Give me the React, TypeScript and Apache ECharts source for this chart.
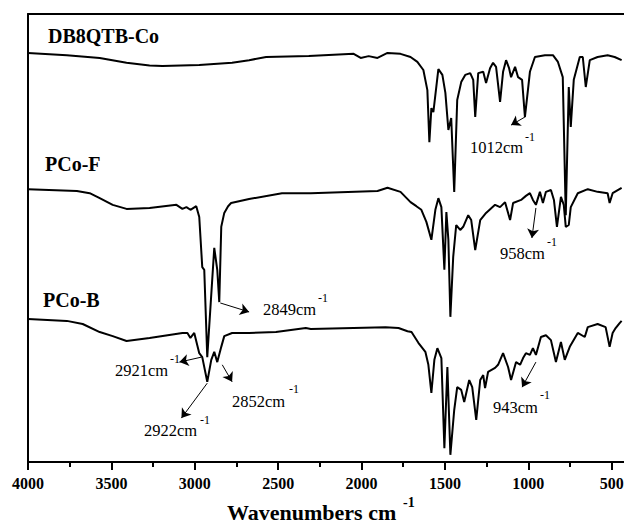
import React, { useEffect, useRef } from "react";
import * as echarts from "echarts";

// ---- Data (wavenumber cm^-1, transmittance a.u.) ----
const dbWn = [4000, 3767, 3570, 3409, 3271, 3194, 2973, 2776, 2674, 2572, 2316, 2047, 2005, 1957, 1904, 1844, 1766, 1706, 1665, 1629, 1605, 1593, 1581, 1569, 1539, 1515, 1497, 1479, 1462, 1444, 1426, 1402, 1378, 1348, 1330, 1318, 1300, 1270, 1253, 1229, 1211, 1193, 1169, 1151, 1133, 1115, 1103, 1079, 1061, 1037, 1020, 1002, 990, 960, 900, 852, 822, 793, 775, 757, 745, 727, 691, 673, 655, 631, 584, 524, 482, 440];
const dbT = [91.3, 90.8, 90.2, 89.1, 88.5, 88.4, 88.6, 89.1, 89.7, 90.4, 90.6, 91.1, 90.2, 90.6, 90.2, 91.3, 91.1, 90.4, 89.3, 87.5, 83.0, 71.4, 79.0, 78.1, 87.7, 86.4, 82.4, 74.1, 76.8, 60.3, 80.8, 84.8, 86.4, 86.8, 85.3, 77.0, 86.8, 87.1, 84.6, 87.9, 89.1, 88.2, 80.4, 87.1, 89.7, 87.9, 85.9, 88.2, 85.9, 85.3, 77.0, 83.0, 87.1, 90.4, 90.8, 90.8, 89.3, 85.9, 55.1, 83.7, 74.8, 85.3, 90.4, 90.4, 83.7, 89.7, 90.4, 90.8, 90.4, 89.7];

const pfWn = [4000, 3707, 3630, 3570, 3492, 3409, 3271, 3110, 3074, 3050, 3026, 2991, 2973, 2955, 2943, 2925, 2883, 2865, 2853, 2841, 2823, 2800, 2782, 2674, 2477, 2304, 1904, 1844, 1766, 1706, 1671, 1641, 1611, 1581, 1557, 1539, 1521, 1503, 1491, 1479, 1467, 1450, 1432, 1408, 1390, 1360, 1342, 1318, 1288, 1253, 1199, 1169, 1139, 1109, 1091, 1043, 1014, 990, 972, 954, 930, 912, 894, 864, 846, 828, 804, 787, 775, 757, 745, 703, 643, 584, 524, 512, 494, 440];
const pfT = [60.9, 60.5, 60.0, 58.9, 57.4, 56.5, 56.7, 57.4, 56.5, 56.9, 56.3, 57.1, 54.7, 43.5, 42.9, 23.4, 47.8, 42.9, 35.7, 52.5, 55.6, 57.1, 57.8, 58.7, 60.0, 60.0, 60.5, 61.2, 60.3, 58.0, 57.1, 56.3, 53.6, 49.6, 56.3, 58.9, 56.9, 42.9, 55.8, 49.6, 32.4, 45.8, 52.9, 51.8, 52.5, 55.1, 54.0, 47.3, 54.0, 55.6, 57.4, 56.9, 58.0, 54.0, 57.8, 58.5, 59.4, 60.0, 58.5, 57.4, 60.3, 57.8, 60.3, 60.7, 58.5, 52.5, 59.2, 57.4, 52.5, 52.9, 56.9, 60.0, 60.9, 60.3, 60.0, 57.8, 60.0, 61.2];

const pbWn = [4000, 3767, 3672, 3570, 3492, 3409, 3271, 3074, 3044, 3026, 3003, 2973, 2955, 2925, 2901, 2883, 2865, 2841, 2823, 2776, 2674, 2513, 2334, 2304, 1856, 1778, 1724, 1700, 1659, 1617, 1599, 1581, 1563, 1545, 1521, 1503, 1485, 1467, 1444, 1426, 1402, 1384, 1354, 1336, 1312, 1288, 1270, 1259, 1241, 1199, 1181, 1151, 1121, 1103, 1073, 1049, 1031, 1014, 990, 972, 954, 924, 894, 864, 834, 804, 781, 751, 703, 661, 643, 584, 536, 512, 494, 476, 452, 440];
const pbT = [31.9, 31.5, 30.8, 29.0, 28.1, 27.0, 27.7, 28.8, 28.8, 27.7, 28.8, 24.3, 23.4, 17.9, 22.8, 24.6, 22.3, 25.7, 28.1, 28.8, 28.8, 29.0, 29.9, 29.7, 30.1, 29.9, 29.2, 29.0, 26.6, 24.6, 21.7, 15.4, 22.8, 25.4, 23.2, 3.1, 21.2, 1.6, 11.6, 16.7, 16.1, 13.4, 18.3, 16.7, 9.4, 18.3, 19.4, 16.5, 20.1, 21.0, 21.7, 24.3, 21.2, 18.3, 22.3, 21.7, 23.2, 24.3, 23.9, 25.4, 23.9, 27.9, 28.3, 27.2, 22.3, 26.8, 22.8, 25.7, 28.8, 27.9, 30.1, 30.8, 30.1, 25.7, 28.8, 29.9, 31.0, 31.5];

const seriesNames = ["DB8QTB-Co", "PCo-F", "PCo-B"];
const xTickLabels = ["4000", "3500", "3000", "2500", "2000", "1500", "1000", "500"];

// arrows: [fromWn, fromT, toWn, toT]
const dbArrows = [[1020, 77.0, 1103, 75.2]];
const pfArrows = [[2847, 35.5, 2674, 33.5], [954, 56.7, 978, 50.0]];
const pbArrows = [[2961, 23.4, 3092, 22.3], [2835, 21.7, 2776, 17.9], [2925, 17.6, 3080, 9.8], [954, 22.3, 1037, 16.7]];

// annotation texts: [main, sup]
const annoTexts = [
  ["1012cm", "-1"],
  ["958cm", "-1"],
  ["2849cm", "-1"],
  ["2921cm", "-1"],
  ["2852cm", "-1"],
  ["2922cm", "-1"],
  ["943cm", "-1"],
];
// layout positions (pixels) for annotation texts: [x, y, supX, supY]
const annoPos = [
  [470, 147, 525, 137],
  [500, 253, 547, 242],
  [263, 309, 318, 298],
  [115, 370, 170, 359],
  [232, 401, 289, 389],
  [144, 430, 200, 420],
  [493, 407, 540, 395],
];
const labelPos = [
  [48, 36],
  [45, 164],
  [43, 300],
];

const SERIF = "'Liberation Serif', 'Times New Roman', serif";

function zip(a: number[], b: number[]) {
  return a.map((v, i) => [v, b[i]]);
}

function arrowData(arr: number[][]) {
  return arr.map((a) => [
    { coord: [a[0], a[1]], symbol: "none" },
    { coord: [a[2], a[3]], symbol: "arrow" },
  ]);
}

export default function App() {
  const ref = useRef<HTMLDivElement>(null);
  useEffect(() => {
    if (!ref.current) return;
    const chart = echarts.init(ref.current, undefined, { renderer: "svg" });
    const mkSeries = (name: string, wn: number[], t: number[], arrows: number[][]) => ({
      name,
      type: "line",
      data: zip(wn, t),
      showSymbol: false,
      symbol: "none",
      lineStyle: { color: "#000", width: 2 },
      itemStyle: { color: "#000" },
      markLine: {
        silent: true,
        symbolSize: 9,
        label: { show: false },
        lineStyle: { color: "#000", width: 1, type: "solid" },
        data: arrowData(arrows),
      },
    });

    const graphics: any[] = [];
    seriesNames.forEach((n, i) => {
      graphics.push({
        type: "text",
        x: labelPos[i][0],
        y: labelPos[i][1],
        style: { text: n, fontSize: 20, fontWeight: "bold", fontFamily: SERIF, fill: "#000", verticalAlign: "middle" },
      });
    });
    annoTexts.forEach((t, i) => {
      const p = annoPos[i];
      graphics.push({
        type: "text",
        x: p[0],
        y: p[1],
        style: { text: t[0], fontSize: 16.5, fontFamily: SERIF, fill: "#000", verticalAlign: "middle" },
      });
      graphics.push({
        type: "text",
        x: p[2],
        y: p[3],
        style: { text: t[1], fontSize: 12, fontFamily: SERIF, fill: "#000", verticalAlign: "middle" },
      });
    });
    graphics.push({
      type: "text",
      x: 227,
      y: 512,
      style: { text: "Wavenumbers cm", fontSize: 22, fontWeight: "bold", fontFamily: SERIF, fill: "#000", verticalAlign: "middle" },
    });
    graphics.push({
      type: "text",
      x: 403,
      y: 502,
      style: { text: "-1", fontSize: 14, fontWeight: "bold", fontFamily: SERIF, fill: "#000", verticalAlign: "middle" },
    });

    chart.setOption({
      animation: false,
      backgroundColor: "#fff",
      grid: { left: 28, top: 14, bottom: 62, right: 0, containLabel: false },
      xAxis: [
        {
          type: "value",
          inverse: true,
          min: 0,
          max: 4000,
          interval: 500,
          position: "bottom",
          axisLine: { show: true, onZero: false, lineStyle: { color: "#000", width: 2 } },
          axisTick: { show: true, length: 8, lineStyle: { color: "#000", width: 2 } },
          minorTick: { show: true, splitNumber: 2, length: 5, lineStyle: { color: "#000", width: 2 } },
          splitLine: { show: false },
          axisLabel: {
            show: true,
            margin: 13,
            fontSize: 16,
            fontWeight: "bold",
            fontFamily: SERIF,
            color: "#000",
            formatter: (v: number) => (xTickLabels.indexOf(String(v)) >= 0 ? String(v) : ""),
          },
        },
        {
          type: "value",
          inverse: true,
          min: 0,
          max: 4000,
          position: "top",
          axisLine: { show: true, onZero: false, lineStyle: { color: "#000", width: 2 } },
          axisTick: { show: false },
          axisLabel: { show: false },
          splitLine: { show: false },
        },
      ],
      yAxis: {
        type: "value",
        min: 0,
        max: 100,
        axisLine: { show: true, onZero: false, lineStyle: { color: "#000", width: 2 } },
        axisTick: { show: false },
        axisLabel: { show: false },
        splitLine: { show: false },
      },
      series: [
        mkSeries(seriesNames[0], dbWn, dbT, dbArrows),
        mkSeries(seriesNames[1], pfWn, pfT, pfArrows),
        mkSeries(seriesNames[2], pbWn, pbT, pbArrows),
      ],
      graphic: graphics,
    });
    return () => chart.dispose();
  }, []);
  return (
    <div style={{ position: "fixed", left: 0, top: 0, width: 624, height: 524, overflow: "hidden", background: "#fff" }}>
      <div ref={ref} style={{ position: "absolute", left: 0, top: 0, width: 698, height: 524 }} />
    </div>
  );
}
